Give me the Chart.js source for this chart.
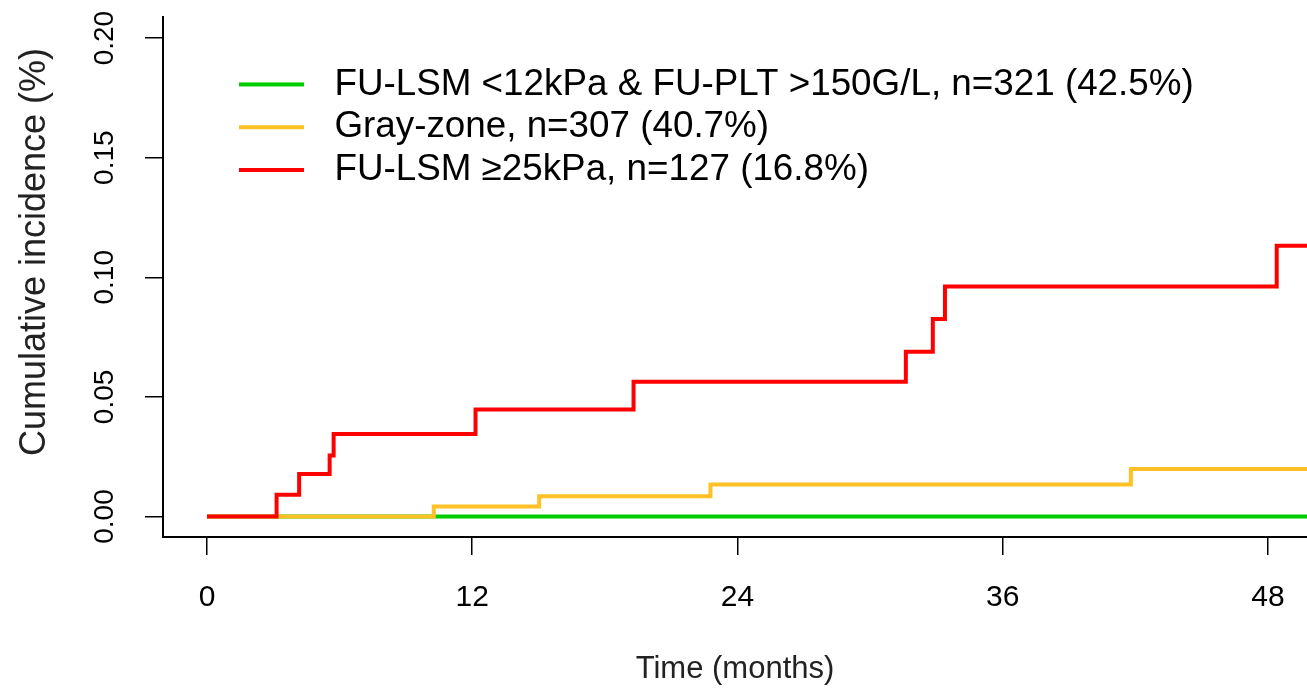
<!DOCTYPE html>
<html>
<head>
<meta charset="utf-8">
<script src="https://cdn.jsdelivr.net/npm/chart.js@4.4.1/dist/chart.umd.min.js"></script>
<style>
  html, body { margin: 0; padding: 0; background: #fff; }
  canvas { display: block; }
</style>
</head>
<body>
<canvas id="chart" width="1307" height="693"></canvas>
<script>
// time in months, cumulative incidence
const xTicks = [0, 12, 24, 36, 48]
const yTicks = [0, 0.05, 0.10, 0.15, 0.20]

const greenTime = [0, 10.3, 49.8]
const greenCif  = [0, 0, 0]

const grayTime = [0, 10.26, 15.03, 22.78, 41.8, 49.8]
const grayCif  = [0, 0.0042, 0.0085, 0.0134, 0.0199, 0.0199]

const redTime = [0, 3.15, 4.17, 5.55, 5.73, 12.15, 19.3, 31.62, 32.84, 33.39, 48.4, 49.8]
const redCif  = [0, 0.0091, 0.0178, 0.0255, 0.0345, 0.0447, 0.0563, 0.0689, 0.0826, 0.0961, 0.1132, 0.1132]

const groupNames = [
  'FU-LSM <12kPa & FU-PLT >150G/L, n=321 (42.5%)',
  'Gray-zone, n=307 (40.7%)',
  'FU-LSM \u226525kPa, n=127 (16.8%)'
]
const groupColors = ['#00CD00', '#FFC125', '#FF0000']

const FONT = "'Liberation Sans', Arial, sans-serif"

function pts(t, v) {
  return t.map((x, i) => ({ x: x, y: v[i] }))
}

// little line sample for the legend
function legendLine(color) {
  const c = document.createElement('canvas')
  c.width = 147
  c.height = 6
  const g = c.getContext('2d')
  g.strokeStyle = color
  g.lineWidth = 4
  g.beginPath()
  g.moveTo(70, 3)
  g.lineTo(135, 3)
  g.stroke()
  return c
}

const series = [pts(greenTime, greenCif), pts(grayTime, grayCif), pts(redTime, redCif)]

const ctx = document.getElementById('chart').getContext('2d')

const myChart = new Chart(ctx, {
  type: 'line',
  data: {
    datasets: series.map((d, i) => ({
      label: groupNames[i],
      data: d,
      borderColor: groupColors[i],
      backgroundColor: groupColors[i],
      borderWidth: 4,
      pointRadius: 0,
      stepped: 'before',
      fill: false,
      order: 3 - i
    }))
  },
  options: {
    responsive: false,
    animation: false,
    layout: { padding: { top: 17, left: 0, right: 0, bottom: 0 } },
    plugins: {
      tooltip: { enabled: false },
      legend: {
        position: 'chartArea',
        align: 'start',
        title: { display: true, text: ' ', font: { size: 60, lineHeight: 1 }, padding: 0 },
        labels: {
          usePointStyle: true,
          pointStyleWidth: 147,
          padding: 6,
          color: '#000',
          font: { family: FONT, size: 36.8, lineHeight: 1 },
          generateLabels: (chart) => chart.data.datasets.map((ds, i) => ({
            text: ds.label,
            pointStyle: legendLine(groupColors[i]),
            fillStyle: groupColors[i],
            strokeStyle: groupColors[i],
            lineWidth: 1,
            fontColor: '#000',
            datasetIndex: i
          }))
        }
      }
    },
    scales: {
      x: {
        type: 'linear',
        position: 'bottom',
        min: -1.99,
        max: 49.77,
        afterBuildTicks: (s) => { s.ticks = xTicks.map(v => ({ value: v })) },
        afterFit: (s) => { s.height = 156; s.paddingLeft = 0; s.paddingRight = 0 },
        grid: { display: true, drawOnChartArea: false, drawTicks: true, tickLength: 18, color: '#000', lineWidth: 1.5 },
        border: { display: true, color: '#000', width: 2 },
        ticks: { color: '#000', padding: 25, font: { family: FONT, size: 30 }, maxRotation: 0, minRotation: 0 },
        title: { display: true, text: 'Time (months)', color: '#222', font: { family: FONT, size: 31 }, padding: { top: 0, bottom: 5 } }
      },
      y: {
        type: 'linear',
        min: -0.00857,
        max: 0.2088,
        afterBuildTicks: (s) => { s.ticks = yTicks.map(v => ({ value: v })) },
        afterFit: (s) => { s.width = 163; s.paddingTop = 0; s.paddingBottom = 0 },
        grid: { display: true, drawOnChartArea: false, drawTicks: true, tickLength: 18, color: '#000', lineWidth: 1.5 },
        border: { display: true, color: '#000', width: 2 },
        ticks: {
          color: '#000',
          padding: 12,
          crossAlign: 'center',
          minRotation: 90,
          maxRotation: 90,
          font: { family: FONT, size: 28 },
          callback: (v) => v.toFixed(2)
        },
        title: {
          display: true,
          text: '     Cumulative incidence (%)',
          color: '#222',
          font: { family: FONT, size: 36 },
          padding: { top: 13, bottom: 0 }
        }
      }
    }
  }
})
</script>
</body>
</html>
